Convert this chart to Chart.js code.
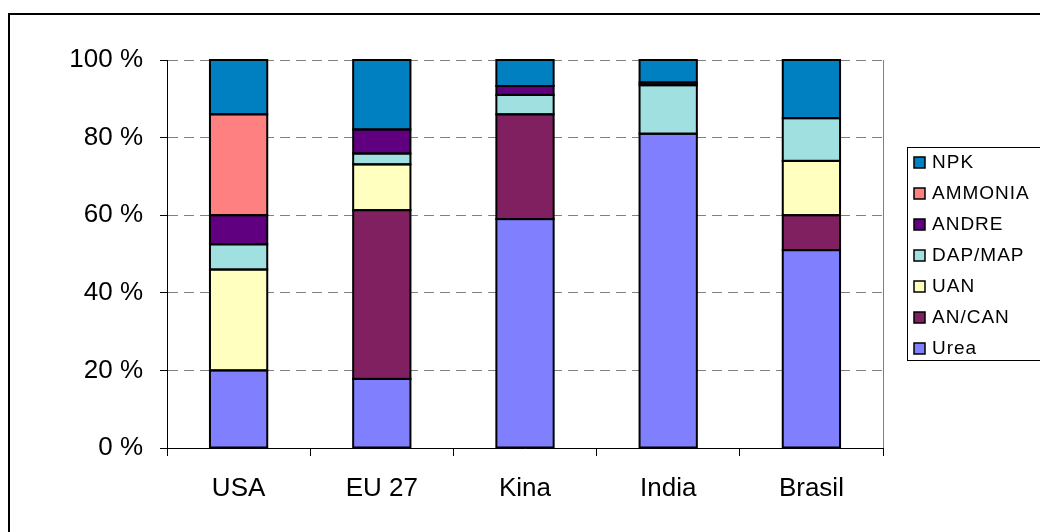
<!DOCTYPE html>
<html>
<head>
<meta charset="utf-8">
<script src="https://cdn.jsdelivr.net/npm/chart.js@4/dist/chart.umd.min.js"></script>
<style>
    body { margin: 0; background: #fff; }
    #wrap { width: 1040px; height: 532px; position: relative; }
</style>
</head>
<body>
<div id="wrap"><canvas id="mixChart"></canvas></div>
<script>
const regions = ['USA', 'EU 27', 'Kina', 'India', 'Brasil'];

// shares in %, bottom of stack first
const urea     = [20.0, 17.8, 59.0, 81.0, 51.0];
const anCan    = [0,    43.5, 27.0, 0,    9.0];
const uan      = [26.0, 11.8, 0,    0,    14.0];
const dapMap   = [6.5,  2.8,  5.0,  12.5, 11.0];
const andre    = [7.5,  6.2,  2.3,  0.7,  0];
const ammonia  = [26.0, 0,    0,    0,    0];
const npk      = [14.0, 17.9, 6.7,  5.8,  15.0];

const yTicks = [0, 20, 40, 60, 80, 100];

const FONT = "'Liberation Sans', Arial, sans-serif";

function makeSet(label, data, color) {
    return {
        label: label,
        // empty shares get no segment
        data: data.map(v => v === 0 ? null : v),
        backgroundColor: color,
        borderWidth: 0,
        barPercentage: 0.4,
        categoryPercentage: 1.0
    };
}

// Excel style outline: stroke centred on each segment edge
const outlinePlugin = {
    id: 'outline',
    afterDatasetsDraw(chart) {
        const ctx = chart.ctx;
        ctx.save();
        ctx.strokeStyle = '#000';
        ctx.lineWidth = 2;
        chart.data.datasets.forEach((ds, i) => {
            chart.getDatasetMeta(i).data.forEach((bar, j) => {
                if (ds.data[j] == null) return;
                const top = Math.min(bar.y, bar.base);
                const h = Math.abs(bar.base - bar.y);
                ctx.strokeRect(bar.x - bar.width / 2, top, bar.width, h);
            });
        });
        ctx.restore();
    }
};

// outer frame, right plot edge, and the boxed legend
const decorPlugin = {
    id: 'decor',
    afterDraw(chart) {
        const ctx = chart.ctx;
        const area = chart.chartArea;
        ctx.save();

        // plot area right edge
        ctx.strokeStyle = '#808080';
        ctx.lineWidth = 1;
        ctx.beginPath();
        ctx.moveTo(area.right + 0.5, area.top);
        ctx.lineTo(area.right + 0.5, area.bottom);
        ctx.stroke();

        // chart frame
        ctx.strokeStyle = '#000';
        ctx.lineWidth = 2;
        ctx.strokeRect(9, 14, 1100, 600);

        // legend box
        ctx.lineWidth = 1;
        ctx.strokeRect(907.5, 147.5, 200, 213);

        ctx.font = '19px ' + FONT;
        ctx.letterSpacing = '1px';
        ctx.textBaseline = 'middle';
        const sets = chart.data.datasets.slice().reverse();
        sets.forEach((ds, i) => {
            const y = 162 + i * 31;
            ctx.fillStyle = ds.backgroundColor;
            ctx.fillRect(914, y - 5, 11, 11);
            ctx.strokeStyle = '#000';
            ctx.lineWidth = 1.5;
            ctx.strokeRect(914, y - 5, 11, 11);
            ctx.fillStyle = '#000';
            ctx.fillText(ds.label, 932, y + 1);
        });
        ctx.restore();
    }
};

const ctx = document.getElementById('mixChart').getContext('2d');
new Chart(ctx, {
    type: 'bar',
    data: {
        labels: regions,
        datasets: [
            makeSet('Urea', urea, '#8080FF'),
            makeSet('AN/CAN', anCan, '#802060'),
            makeSet('UAN', uan, '#FFFFC0'),
            makeSet('DAP/MAP', dapMap, '#A0E0E0'),
            makeSet('ANDRE', andre, '#600080'),
            makeSet('AMMONIA', ammonia, '#FF8080'),
            makeSet('NPK', npk, '#0080C0')
        ]
    },
    options: {
        responsive: true,
        maintainAspectRatio: false,
        animation: false,
        layout: { padding: { top: 60, right: 157, bottom: 0, left: 0 } },
        plugins: {
            legend: { display: false },
            tooltip: { enabled: false }
        },
        scales: {
            x: {
                stacked: true,
                afterFit: (scale) => { scale.height = 84; },
                grid: {
                    offset: true,
                    drawOnChartArea: false,
                    tickLength: 8,
                    tickColor: '#000'
                },
                border: { display: true, color: '#000', width: 1 },
                ticks: {
                    color: '#000',
                    padding: 17,
                    font: { family: FONT, size: 26 }
                }
            },
            y: {
                stacked: true,
                min: 0,
                max: 100,
                afterFit: (scale) => { scale.width = 167; },
                afterBuildTicks: (scale) => { scale.ticks = yTicks.map(v => ({ value: v })); },
                grid: {
                    color: (c) => c.tick && c.tick.value === 0 ? 'rgba(0,0,0,0)' : '#808080',
                    lineWidth: 1,
                    tickLength: 7,
                    tickColor: '#000',
                    tickBorderDash: []
                },
                border: { display: true, color: '#000', width: 1, dash: [10, 6] },
                ticks: {
                    color: '#000',
                    padding: 17,
                    font: { family: FONT, size: 26 },
                    callback: (v) => v + ' %'
                }
            }
        }
    },
    plugins: [outlinePlugin, decorPlugin]
});
</script>
</body>
</html>
